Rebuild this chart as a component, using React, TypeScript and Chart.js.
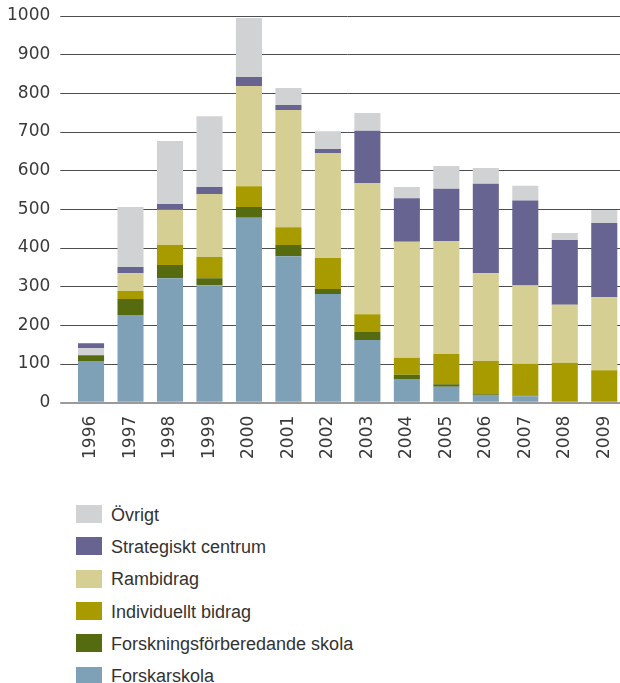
import React, { useEffect, useRef } from "react";
import { Chart, registerables } from "chart.js";
Chart.register(...registerables);

const years = ["1996", "1997", "1998", "1999", "2000", "2001", "2002", "2003", "2004", "2005", "2006", "2007", "2008", "2009"];
const forskarskola = [108, 227, 322, 304, 478, 379, 281, 162, 61, 41, 20, 17, 0, 0];
const forskningsforb = [15, 41, 34, 18, 28, 29, 13, 21, 11, 7, 2, 1, 0, 0];
const individuellt = [0, 21, 52, 55, 54, 46, 80, 46, 44, 78, 86, 83, 103, 84];
const rambidrag = [0, 46, 91, 163, 259, 303, 272, 339, 300, 292, 227, 202, 150, 189];
// In 1996 the "Övrigt" segment sits below "Strategiskt centrum"
const ovrigtLower = [18, 0, 0, 0, 0, 0, 0, 0, 0, 0, 0, 0, 0, 0];
const strategiskt = [13, 16, 15, 18, 23, 13, 10, 135, 113, 135, 231, 220, 168, 192];
const ovrigt = [0, 155, 163, 183, 153, 44, 46, 46, 29, 59, 41, 38, 18, 33];

const yTicks = [0, 100, 200, 300, 400, 500, 600, 700, 800, 900, 1000];

const names = {
  forskarskola: "Forskarskola",
  forskningsforb: "Forskningsförberedande skola",
  individuellt: "Individuellt bidrag",
  rambidrag: "Rambidrag",
  strategiskt: "Strategiskt centrum",
  ovrigt: "Övrigt",
};
const colors = {
  forskarskola: "#7fa1b8",
  forskningsforb: "#566b10",
  individuellt: "#a89b00",
  rambidrag: "#d5cf94",
  strategiskt: "#676492",
  ovrigt: "#d1d2d4",
};

const legendOrder: (keyof typeof names)[] = ["ovrigt", "strategiskt", "rambidrag", "individuellt", "forskningsforb", "forskarskola"];

const W = 624;
const H = 470;
const PLOT_TOP = 16;
const PLOT_BOTTOM = 402.7;
const PLOT_LEFT = 71.3;

export default function App() {
  const ref = useRef<HTMLCanvasElement>(null);
  useEffect(() => {
    document.body.style.margin = "0";
    const ds = (key: keyof typeof names, data: number[], label?: string) => ({
      label: label ?? names[key],
      data,
      backgroundColor: colors[key],
      borderWidth: 0,
      stack: "s",
      categoryPercentage: 1.0,
      barPercentage: 0.66,
    });
    const chart = new Chart(ref.current!, {
      type: "bar",
      data: {
        labels: years,
        datasets: [
          ds("forskarskola", forskarskola),
          ds("forskningsforb", forskningsforb),
          ds("individuellt", individuellt),
          ds("rambidrag", rambidrag),
          ds("ovrigt", ovrigtLower, "Övrigt (1996)"),
          ds("strategiskt", strategiskt),
          ds("ovrigt", ovrigt),
        ],
      },
      options: {
        responsive: false,
        animation: false,
        layout: { padding: { top: PLOT_TOP, right: 0, bottom: 0, left: 0 } },
        plugins: { legend: { display: false }, tooltip: { enabled: false } },
        scales: {
          x: {
            stacked: true,
            grid: { display: false, drawTicks: false },
            border: { display: false },
            ticks: {
              maxRotation: 90,
              minRotation: 90,
              padding: 13,
              color: "#3a3a3a",
              font: { family: "DejaVu Sans", size: 17 },
            },
            afterFit: (s: any) => {
              s.height = H - PLOT_BOTTOM;
              s.paddingLeft = 0;
              s.paddingRight = 0;
            },
          },
          y: {
            stacked: true,
            min: 0,
            max: 1000,
            afterBuildTicks: (s: any) => {
              s.ticks = yTicks.map((v) => ({ value: v }));
            },
            grid: {
              color: (c: any) => (c.tick && c.tick.value === 0 ? "#9a9a9a" : "#4d4d4d"),
              lineWidth: (c: any) => (c.tick && c.tick.value === 0 ? 2 : 1),
              tickLength: 11,
              drawTicks: true,
            },
            border: { display: false },
            ticks: {
              padding: 10,
              color: "#3a3a3a",
              font: { family: "DejaVu Sans", size: 17 },
              callback: (v: any) => String(v),
            },
            afterFit: (s: any) => {
              s.width = PLOT_LEFT;
              s.paddingTop = 0;
              s.paddingBottom = 0;
            },
          },
        },
      },
    });
    return () => chart.destroy();
  }, []);

  return (
    <div style={{ position: "relative", width: 620, height: 683, overflow: "hidden" }}>
      <canvas ref={ref} width={W} height={H} style={{ position: "absolute", left: 0, top: 0 }} />
      <div style={{ position: "absolute", left: 76, top: 498, fontFamily: "Liberation Sans, Arial, sans-serif", fontSize: 18, color: "#333" }}>
        {legendOrder.map((k) => (
          <div key={k} style={{ height: 32.3, display: "flex", alignItems: "center" }}>
            <span style={{ display: "inline-block", width: 26, height: 18, background: colors[k], marginRight: 9 }} />
            <span style={{ position: "relative", top: 1 }}>{names[k]}</span>
          </div>
        ))}
      </div>
    </div>
  );
}
